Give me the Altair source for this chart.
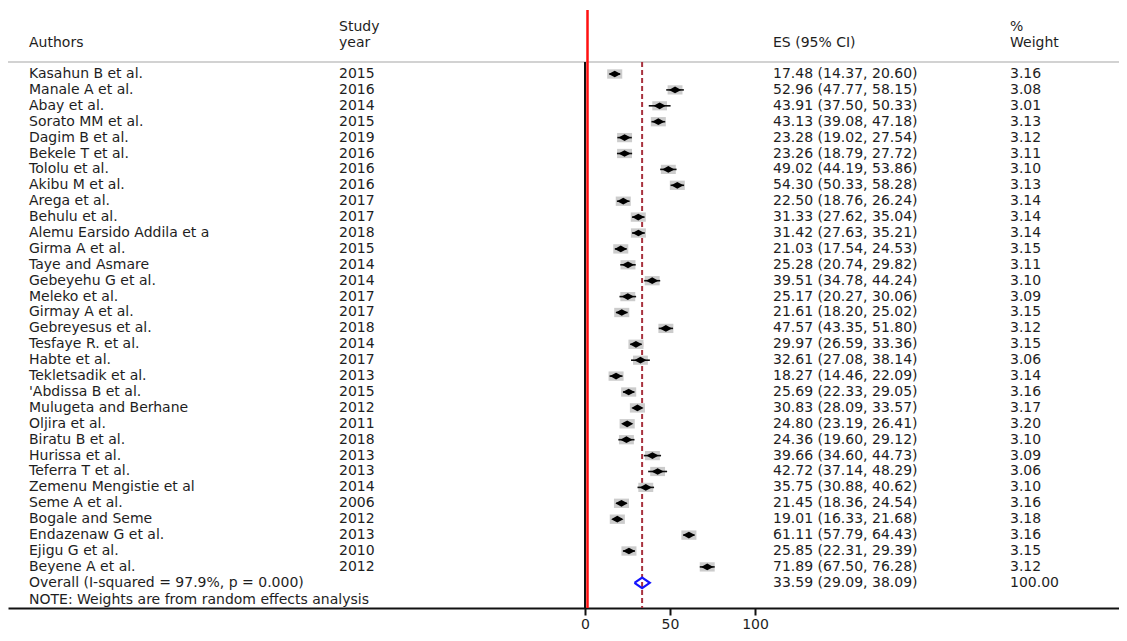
import altair as alt
import pandas as pd

authors = [
    "Kasahun B et al.", "Manale A et al.", "Abay et al.", "Sorato MM et al.",
    "Dagim B et al.", "Bekele T et al.", "Tololu et al.", "Akibu M et al.",
    "Arega et al.", "Behulu et al.", "Alemu Earsido Addila et a", "Girma A et al.",
    "Taye and Asmare", "Gebeyehu G et al.", "Meleko et al.", "Girmay A et al.",
    "Gebreyesus et al.", "Tesfaye R. et al.", "Habte et al.", "Tekletsadik et al.",
    "'Abdissa B et al.", "Mulugeta and Berhane", "Oljira et al.", "Biratu B et al.",
    "Hurissa et al.", "Teferra T et al.", "Zemenu Mengistie et al", "Seme A et al.",
    "Bogale and Seme", "Endazenaw G et al.", "Ejigu G et al.", "Beyene A et al.",
]
years = [
    "2015", "2016", "2014", "2015", "2019", "2016", "2016", "2016",
    "2017", "2017", "2018", "2015", "2014", "2014", "2017", "2017",
    "2018", "2014", "2017", "2013", "2015", "2012", "2011", "2018",
    "2013", "2013", "2014", "2006", "2012", "2013", "2010", "2012",
]
es = [17.48, 52.96, 43.91, 43.13, 23.28, 23.26, 49.02, 54.30,
      22.50, 31.33, 31.42, 21.03, 25.28, 39.51, 25.17, 21.61,
      47.57, 29.97, 32.61, 18.27, 25.69, 30.83, 24.80, 24.36,
      39.66, 42.72, 35.75, 21.45, 19.01, 61.11, 25.85, 71.89]
lo = [14.37, 47.77, 37.50, 39.08, 19.02, 18.79, 44.19, 50.33,
      18.76, 27.62, 27.63, 17.54, 20.74, 34.78, 20.27, 18.20,
      43.35, 26.59, 27.08, 14.46, 22.33, 28.09, 23.19, 19.60,
      34.60, 37.14, 30.88, 18.36, 16.33, 57.79, 22.31, 67.50]
hi = [20.60, 58.15, 50.33, 47.18, 27.54, 27.72, 53.86, 58.28,
      26.24, 35.04, 35.21, 24.53, 29.82, 44.24, 30.06, 25.02,
      51.80, 33.36, 38.14, 22.09, 29.05, 33.57, 26.41, 29.12,
      44.73, 48.29, 40.62, 24.54, 21.68, 64.43, 29.39, 76.28]
weights = [3.16, 3.08, 3.01, 3.13, 3.12, 3.11, 3.10, 3.13,
           3.14, 3.14, 3.14, 3.15, 3.11, 3.10, 3.09, 3.15,
           3.12, 3.15, 3.06, 3.14, 3.16, 3.17, 3.20, 3.10,
           3.09, 3.06, 3.10, 3.16, 3.18, 3.16, 3.15, 3.12]

overall_label = "Overall  (I-squared = 97.9%, p = 0.000)"
overall_es, overall_lo, overall_hi, overall_weight = 33.59, 29.09, 38.09, 100.00
note_text = "NOTE: Weights are from random effects analysis"
tick_values = [0, 50, 100]
null_value = 0

FONT = "DejaVu Sans"
FS = 14
TXT = "#1e1e1e"

n = len(authors)
studies = pd.DataFrame({
    "row": list(range(n)), "author": authors, "year": years,
    "es": es, "lo": lo, "hi": hi, "weight": weights,
})
studies["ci_text"] = [f"{e:.2f} ({l:.2f}, {h:.2f})" for e, l, h in zip(es, lo, hi)]
studies["w_text"] = [f"{w:.2f}" for w in weights]

overall = pd.DataFrame({
    "row": [n], "author": [overall_label], "year": [""],
    "es": [overall_es], "lo": [overall_lo], "hi": [overall_hi], "weight": [overall_weight],
    "ci_text": [f"{overall_es:.2f} ({overall_lo:.2f}, {overall_hi:.2f})"],
    "w_text": [f"{overall_weight:.2f}"],
})
table = pd.concat([studies, overall], ignore_index=True)

half = 0.33
diamond = pd.DataFrame({
    "k": [0, 1, 2, 3, 4],
    "x": [overall_lo, overall_es, overall_hi, overall_es, overall_lo],
    "row": [n, n - half, n, n + half, n],
})

W, H = 1111, 600
xs = alt.Scale(domain=[-339.4, 314.1], nice=False, zero=False)
ys = alt.Scale(domain=[-4.151, 33.585], nice=False, zero=False, reverse=True)
AX = alt.Axis(
    values=tick_values, title=None, grid=False,
    domainColor="#111", domainWidth=2, tickColor="#111", tickWidth=2, tickSize=7,
    labelFont=FONT, labelFontSize=14, labelColor=TXT, labelPadding=2, labelFlush=False,
)
Y = alt.Y("row:Q", scale=ys, axis=None)
one = pd.DataFrame({"k": [0]})
refs = pd.DataFrame({"v": [null_value], "ov": [overall_es]})


def X(field):
    return alt.X(field, scale=xs, axis=AX)


def label(text, x, y, align="left"):
    return alt.Chart(pd.DataFrame({"t": [text]})).mark_text(
        align=align, baseline="middle", font=FONT, fontSize=FS, color=TXT
    ).encode(x=alt.value(x), y=alt.value(y), text="t:N")


base = alt.Chart(studies)

boxes = base.mark_point(
    shape="M-1,-0.62L1,-0.62L1,0.62L-1,0.62Z", filled=True, color="#cccccc", opacity=1
).encode(
    x=X("es:Q"), y=Y,
    size=alt.Size("weight:Q", scale=alt.Scale(domain=[0, 3.2], range=[0, 230]), legend=None),
)

ci = base.mark_rule(color="#111", strokeWidth=1.6).encode(x=X("lo:Q"), x2="hi:Q", y=Y)

dots = base.mark_point(
    shape="M-1,0L0,-0.55L1,0L0,0.55Z", filled=True, color="#000", opacity=1, size=150
).encode(x=X("es:Q"), y=Y)

sep = alt.Chart(one).mark_rule(color="#d2d2d2", strokeWidth=2).encode(
    x=alt.value(0), x2=alt.value(W), y=alt.value(54)
)
zero_line = alt.Chart(refs).mark_rule(color="#111", strokeWidth=2).encode(
    x=X("v:Q"), y=alt.value(54), y2=alt.value(H)
)
red_line = alt.Chart(one).mark_rule(color="#ff1010", strokeWidth=2.5).encode(
    x=alt.value(579.5), y=alt.value(2), y2=alt.value(H)
)
dash_line = alt.Chart(refs).mark_rule(color="#a8323e", strokeWidth=2, strokeDash=[5, 3]).encode(
    x=X("ov:Q"), y=alt.value(54), y2=alt.value(H)
)

ov_diamond = alt.Chart(diamond).mark_line(color="#1414ff", strokeWidth=2.2).encode(
    x=X("x:Q"), y=Y, order="k:Q"
)

tbase = alt.Chart(table)
t_author = tbase.mark_text(align="left", baseline="middle", font=FONT, fontSize=FS, color=TXT).encode(
    x=alt.value(21), y=Y, text="author:N")
t_year = tbase.mark_text(align="left", baseline="middle", font=FONT, fontSize=FS, color=TXT).encode(
    x=alt.value(331), y=Y, text="year:N")
t_ci = tbase.mark_text(align="left", baseline="middle", font=FONT, fontSize=FS, color=TXT).encode(
    x=alt.value(765), y=Y, text="ci_text:N")
t_w = tbase.mark_text(align="left", baseline="middle", font=FONT, fontSize=FS, color=TXT).encode(
    x=alt.value(1002), y=Y, text="w_text:N")

headers = [
    label("Authors", 21, 35),
    label("Study", 331, 19),
    label("year", 331, 35),
    label("ES (95% CI)", 765, 35),
    label("%", 1002, 19),
    label("Weight", 1002, 35),
    label(note_text, 21, 592),
]

chart = alt.layer(
    sep, dash_line, zero_line, red_line, boxes, ci, dots, ov_diamond,
    t_author, t_year, t_ci, t_w, *headers,
).properties(
    width=W, height=H, background="white",
    padding={"left": 0, "top": 0, "right": 0, "bottom": 25},
    autosize=alt.AutoSizeParams(type="none"),
).configure_view(stroke="transparent", strokeWidth=0)

chart.save("out.html", embed_options={"renderer": "svg", "actions": False})
